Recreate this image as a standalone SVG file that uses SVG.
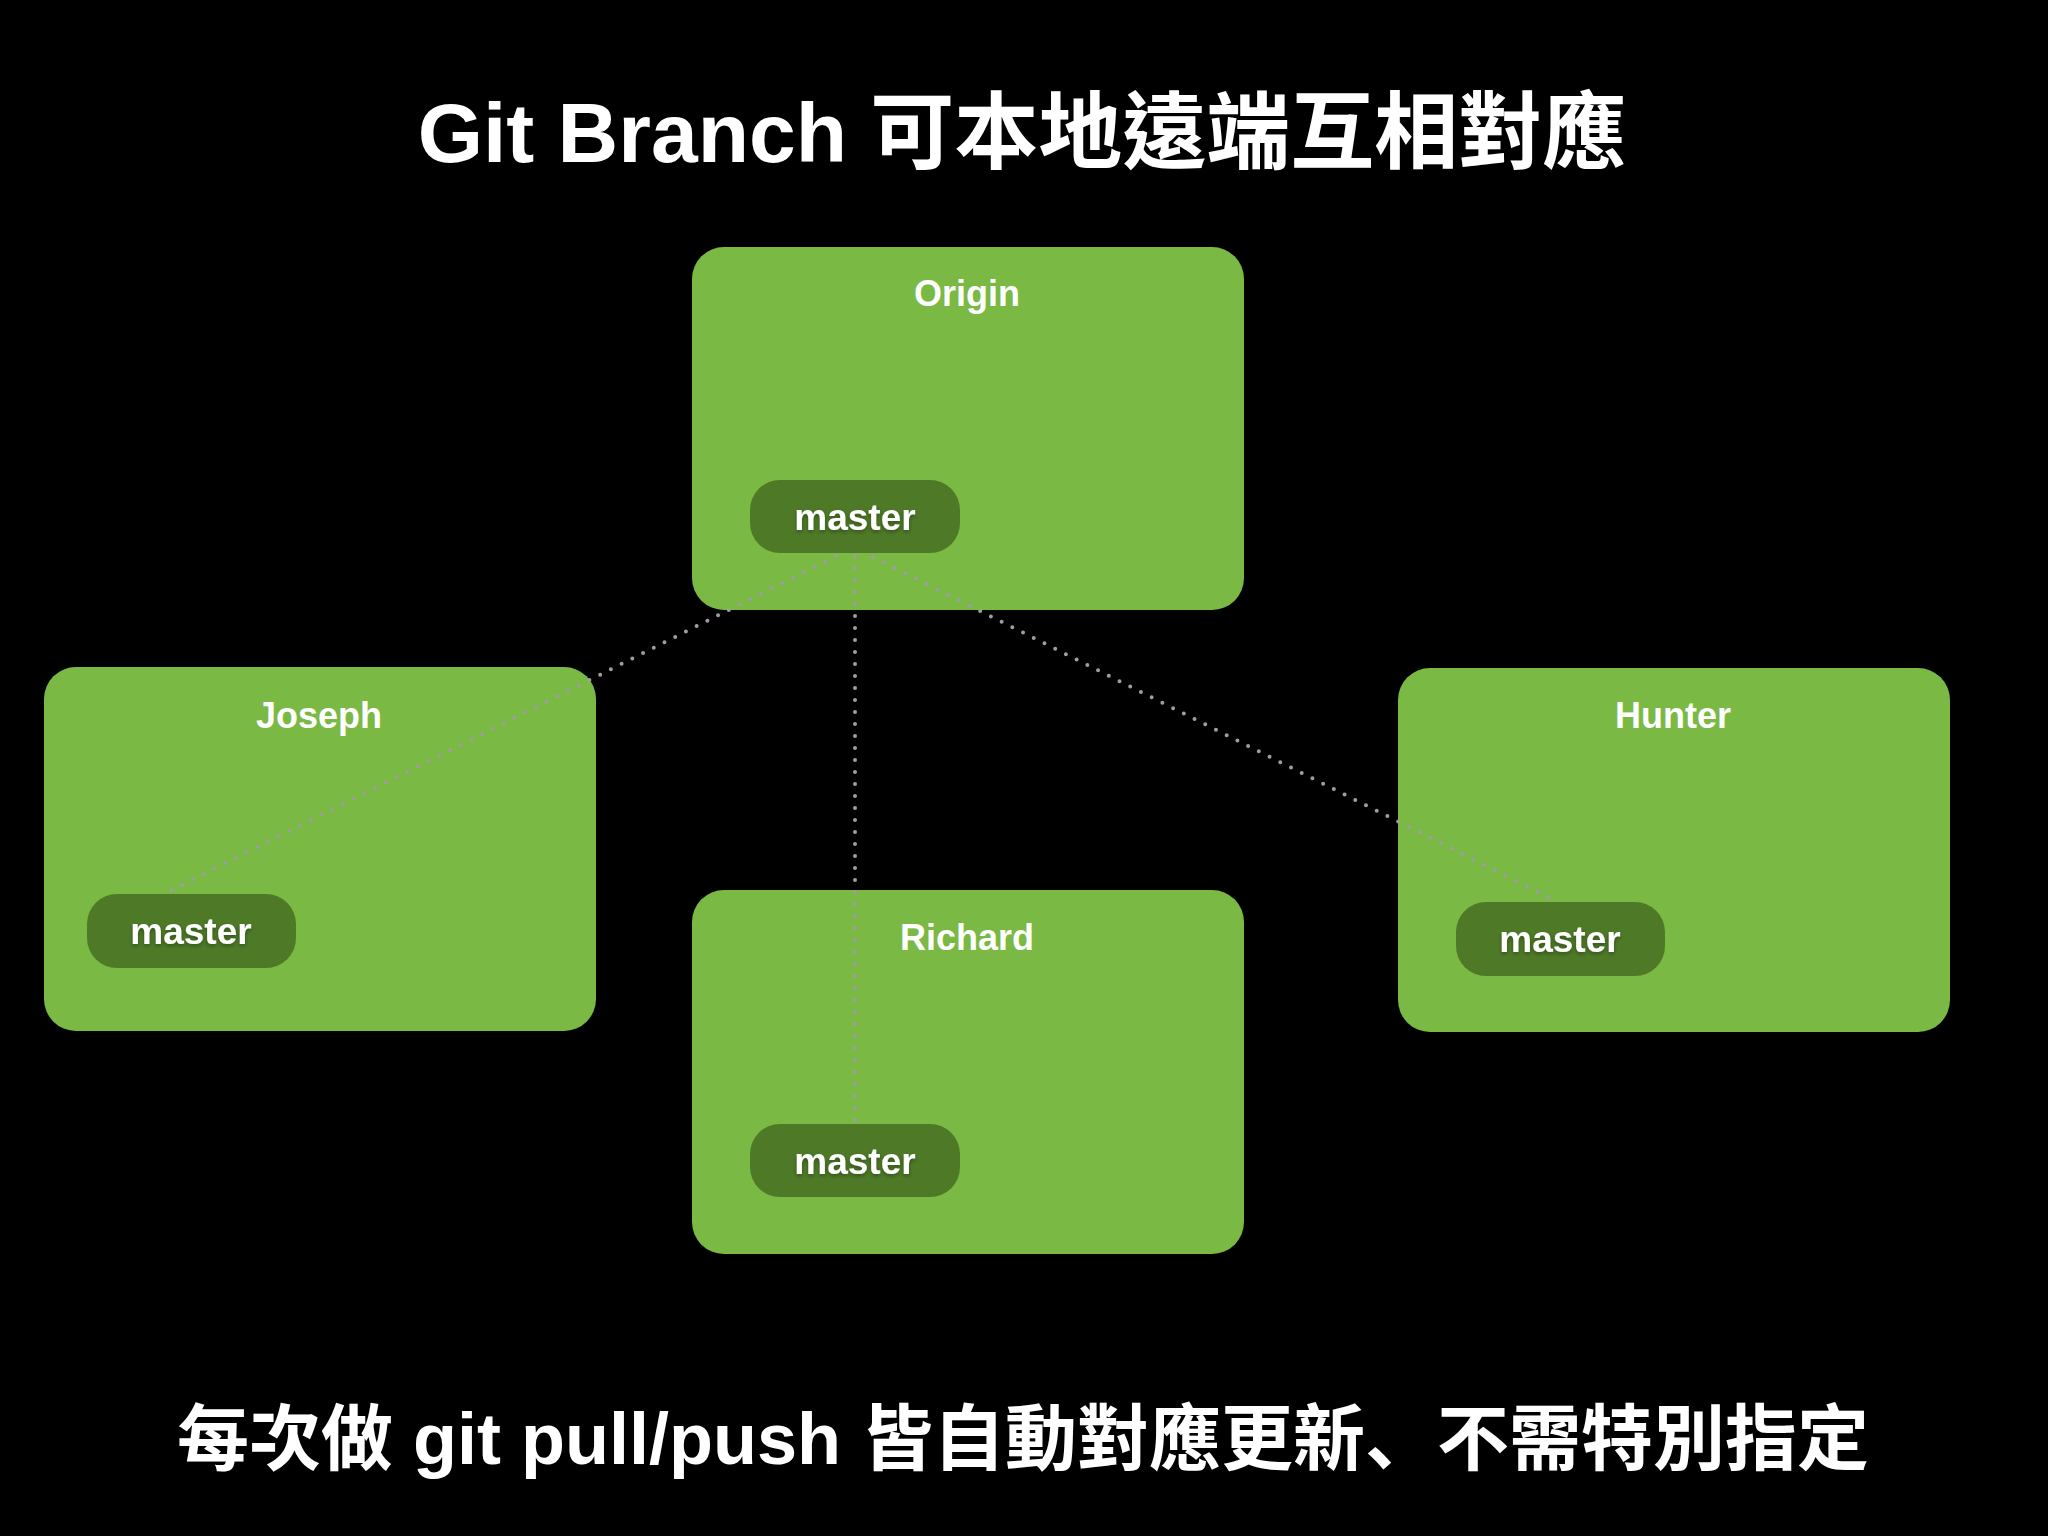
<svg xmlns="http://www.w3.org/2000/svg" width="2048" height="1536" viewBox="0 0 2048 1536">
<style>
.box{fill:#7ab943}
.pill{fill:#4e7a28}
.lbl{font-family:"Liberation Sans","Noto Sans",sans-serif;font-weight:700;font-size:36px;fill:#ffffff;text-anchor:middle}
.br{font-family:"Liberation Sans","Noto Sans",sans-serif;font-weight:700;font-size:37px;fill:#ffffff;text-anchor:middle;filter:url(#sh)}
.title{font-family:"Liberation Sans","Noto Sans CJK TC",sans-serif;font-weight:700;fill:#ffffff;text-anchor:middle}
.jp{font-family:"Noto Sans CJK JP",sans-serif}
.conn{stroke:#9e9e9e;stroke-width:4;stroke-linecap:round;stroke-dasharray:0 12;fill:none}
</style>
<defs>
<filter id="sh" x="-20%" y="-40%" width="140%" height="180%">
<feDropShadow dx="0" dy="2" stdDeviation="2" flood-color="#000000" flood-opacity="0.35"/>
</filter>
</defs>
<rect x="0" y="0" width="2048" height="1536" fill="#000000"/>
<text class="title" x="1022" y="162" font-size="84">Git Branch 可本地遠端互相對應</text>

<g id="origin">
<rect class="box" x="692" y="247" width="552" height="363" rx="32"/>
<text class="lbl" x="967" y="306">Origin</text>
</g>
<g id="joseph">
<rect class="box" x="44" y="667" width="552" height="364" rx="32"/>
<text class="lbl" x="319" y="728">Joseph</text>
</g>
<g id="richard">
<rect class="box" x="692" y="890" width="552" height="364" rx="32"/>
<text class="lbl" x="967" y="950">Richard</text>
</g>
<g id="hunter">
<rect class="box" x="1398" y="668" width="552" height="364" rx="32"/>
<text class="lbl" x="1673" y="728">Hunter</text>
</g>

<g id="connectors">
<line class="conn" x1="836" y1="556" x2="168" y2="892"/>
<line class="conn" x1="855" y1="556" x2="855" y2="1122"/>
<line class="conn" x1="873" y1="557" x2="1552" y2="899"/>
</g>

<g id="origin-master">
<rect class="pill" x="750" y="480" width="210" height="73" rx="30"/>
<text class="br" x="855" y="530">master</text>
</g>
<g id="joseph-master">
<rect class="pill" x="87" y="894" width="209" height="74" rx="30"/>
<text class="br" x="191" y="944">master</text>
</g>
<g id="richard-master">
<rect class="pill" x="750" y="1124" width="210" height="73" rx="30"/>
<text class="br" x="855" y="1174">master</text>
</g>
<g id="hunter-master">
<rect class="pill" x="1456" y="902" width="209" height="74" rx="30"/>
<text class="br" x="1560" y="952">master</text>
</g>

<text class="title" x="1023" y="1464" font-size="72">每次做 git pull/push 皆自動對應更新<tspan class="jp">、</tspan>不需特別指定</text>
</svg>
